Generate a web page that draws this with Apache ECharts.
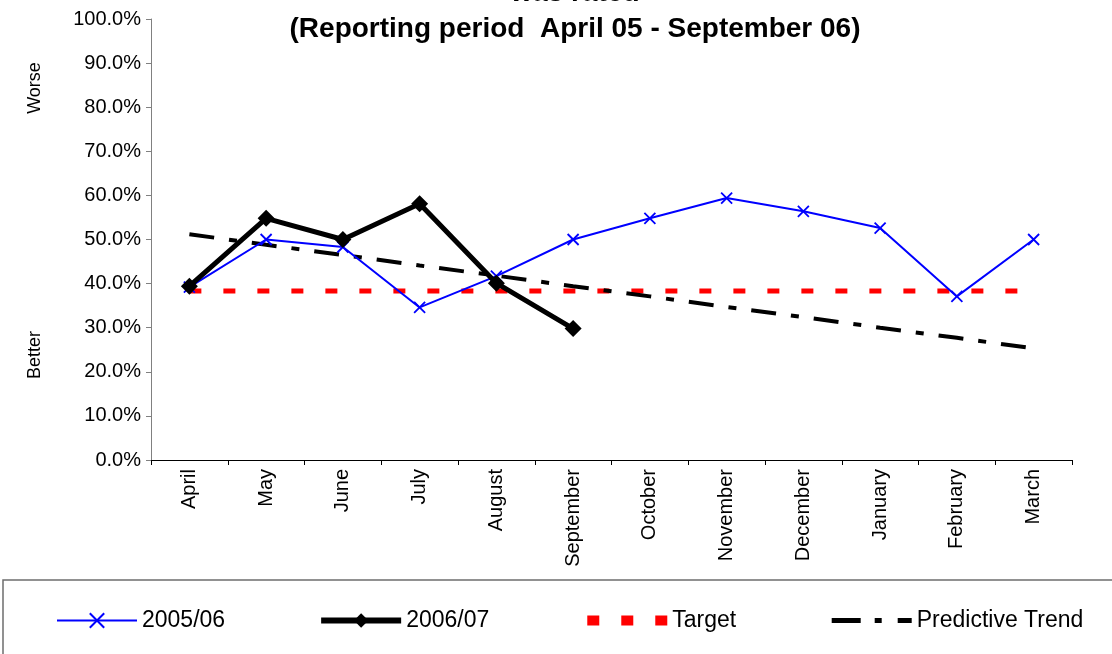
<!DOCTYPE html>
<html>
<head>
<meta charset="utf-8">
<title>Rate chart</title>
<script src="https://cdn.jsdelivr.net/npm/echarts@6/dist/echarts.min.js"></script>
<style>
  html, body { margin: 0; padding: 0; background: #fff; }
  #chart { width: 1112px; height: 654px; }
</style>
</head>
<body>
<div id="chart"></div>
<script>
// months of the reporting year
var months = ['April', 'May', 'June', 'July', 'August', 'September',
  'October', 'November', 'December', 'January', 'February', 'March'];
// rates in percent
var rate0506 = [39.2, 50.0, 48.3, 34.6, 41.7, 50.0, 54.8, 59.4, 56.4, 52.6, 37.1, 50.0];
var rate0607 = [39.4, 54.8, 50.0, 58.1, 40.1, 29.8];
var target = [38.3, 38.3, 38.3, 38.3, 38.3, 38.3, 38.3, 38.3, 38.3, 38.3, 38.3, 38.3];
var trend = [51.2, 48.8, 46.5, 44.1, 41.8, 39.4, 37.1, 34.7, 32.4, 30.0, 27.7, 25.3];
var yTicks = { min: 0, max: 100, step: 10 };

var font = "'Liberation Sans', Arial, sans-serif";
var chart = echarts.init(document.getElementById('chart'));

var option = {
  animation: false,
  backgroundColor: '#fff',
  title: {
    text: 'was rated\n(Reporting period  April 05 - September 06)',
    left: 575,
    textAlign: 'center',
    top: -25,
    padding: 0,
    textStyle: {
      fontFamily: font,
      fontSize: 28,
      fontWeight: 'bold',
      color: '#000',
      lineHeight: 36
    }
  },
  grid: { left: 151, right: 40, top: 19, bottom: 194, containLabel: false },
  legend: {
    left: 51,
    top: 604,
    itemWidth: 80,
    itemHeight: 18,
    itemGap: 93,
    textStyle: { fontFamily: font, fontSize: 23, color: '#000' },
    data: [
      { name: '2005/06' },
      { name: '2006/07', lineStyle: { width: 6 } },
      { name: 'Target', lineStyle: { width: 10, type: [12, 22] }, itemStyle: { opacity: 0 } },
      { name: 'Predictive Trend', lineStyle: { width: 5, type: [29, 14, 7, 16] }, itemStyle: { opacity: 0 } }
    ]
  },
  xAxis: {
    type: 'category',
    data: months,
    boundaryGap: true,
    axisLine: { lineStyle: { color: '#000', width: 1 } },
    axisTick: { show: true, length: 5, lineStyle: { color: '#000' } },
    axisLabel: {
      rotate: 90,
      margin: 9,
      fontFamily: font,
      fontSize: 20,
      color: '#000',
      interval: 0
    },
    splitLine: { show: false }
  },
  yAxis: {
    type: 'value',
    min: yTicks.min,
    max: yTicks.max,
    interval: yTicks.step,
    axisLine: { show: true, lineStyle: { color: '#808080', width: 1 } },
    axisTick: { show: true, length: 5, lineStyle: { color: '#808080' } },
    axisLabel: {
      margin: 10,
      fontFamily: font,
      fontSize: 20,
      color: '#000',
      formatter: function (v) { return v.toFixed(1) + '%'; }
    },
    splitLine: { show: false }
  },
  graphic: [
    {
      type: 'text',
      x: 35, y: 88,
      rotation: Math.PI / 2,
      style: { text: 'Worse', fontFamily: font, fontSize: 18, fill: '#000',
        textAlign: 'center', textVerticalAlign: 'middle' }
    },
    {
      type: 'text',
      x: 35, y: 355,
      rotation: Math.PI / 2,
      style: { text: 'Better', fontFamily: font, fontSize: 18, fill: '#000',
        textAlign: 'center', textVerticalAlign: 'middle' }
    },
    {
      type: 'rect',
      silent: true,
      shape: { x: 3, y: 580, width: 1200, height: 200 },
      style: { fill: 'none', stroke: '#6e6e6e', lineWidth: 1.5 },
      z: -1
    }
  ],
  series: [
    {
      name: '2005/06',
      type: 'line',
      data: rate0506,
      symbol: 'path://M0,0L10,10M0,10L10,0',
      symbolSize: 11,
      itemStyle: { color: '#0000FF', borderColor: '#0000FF', borderWidth: 1.8 },
      lineStyle: { color: '#0000FF', width: 2 },
      z: 3
    },
    {
      name: '2006/07',
      type: 'line',
      data: rate0607,
      symbol: 'diamond',
      symbolSize: 17,
      itemStyle: { color: '#000' },
      lineStyle: { color: '#000', width: 5 },
      z: 4
    },
    {
      name: 'Target',
      type: 'line',
      data: target,
      symbol: 'none',
      itemStyle: { color: '#FF0000' },
      lineStyle: { color: '#FF0000', width: 5, type: [12, 22] },
      z: 2
    },
    {
      name: 'Predictive Trend',
      type: 'line',
      data: trend,
      symbol: 'none',
      itemStyle: { color: '#000' },
      lineStyle: { color: '#000', width: 4, type: [25, 15, 8, 15] },
      z: 2
    }
  ]
};

chart.setOption(option);
</script>
</body>
</html>
